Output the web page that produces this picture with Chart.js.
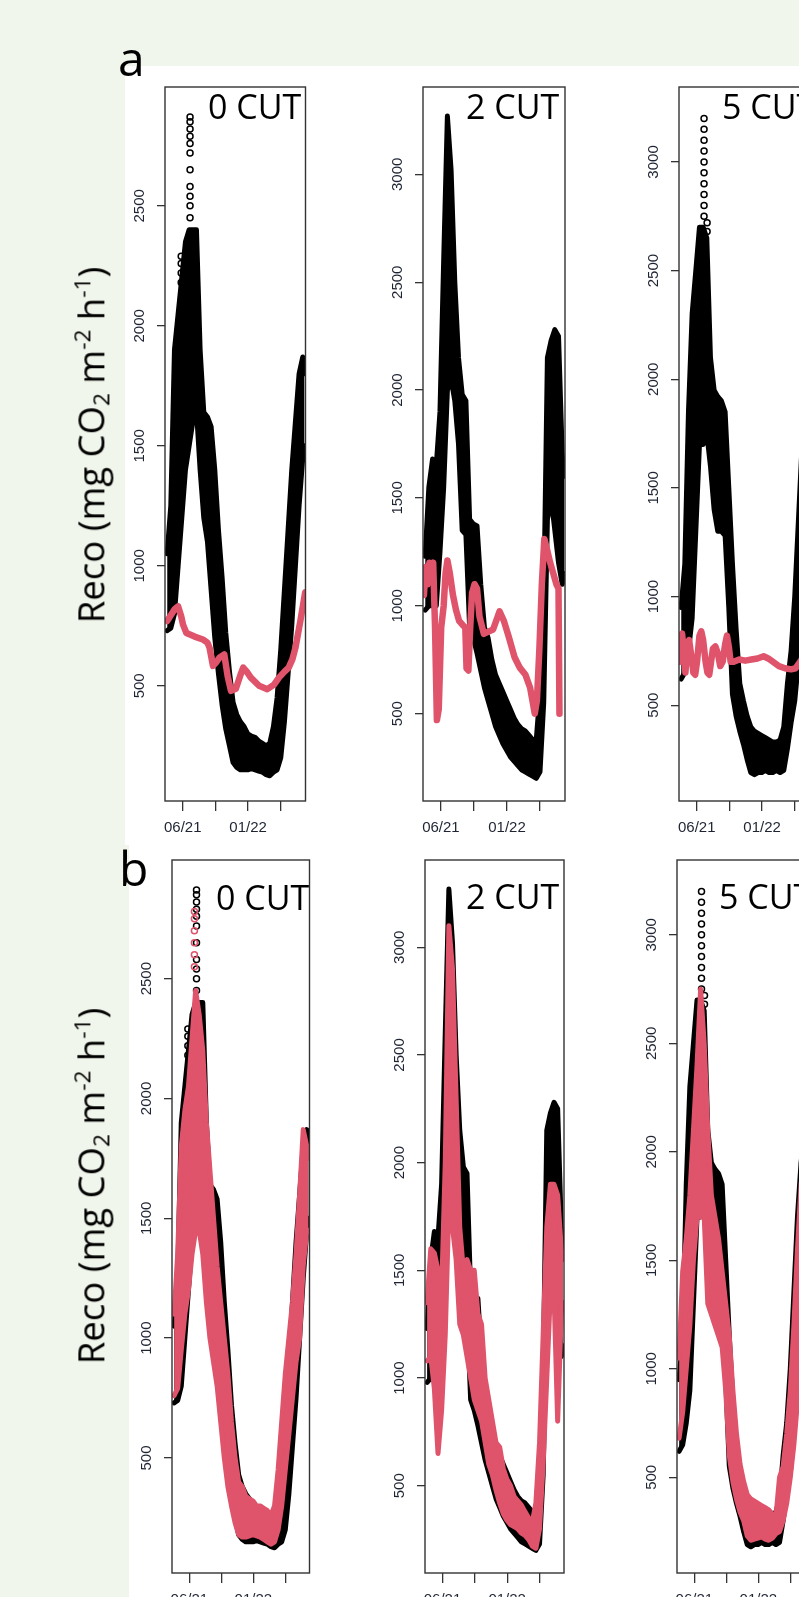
<!DOCTYPE html>
<html>
<head>
<meta charset="utf-8">
<script src="https://cdn.jsdelivr.net/npm/chart.js@4.4.1/dist/chart.umd.min.js"></script>
<style>
  html, body { margin: 0; padding: 0; overflow: hidden; }
  body { width: 799px; height: 1597px; position: relative; background: #f0f6eb; }
  .white { position: absolute; background: #fff; }
  canvas { position: absolute; }
  .cut { position: absolute; font: 34px "Open Sans"; line-height: 32px; color: #000; white-space: nowrap; }
  .panel { position: absolute; font: 48px "Open Sans"; line-height: 48px; color: #000; }
  .ytitle { position: absolute; transform: translate(-50%, -50%) rotate(-90deg); white-space: nowrap;
            font: 36.5px "Open Sans"; line-height: 42px; color: #000; }
  .ytitle sub, .ytitle sup { font-size: 0.62em; }
  .ytitle sub { vertical-align: -0.25em; }
  .ytitle sup { vertical-align: 0.6em; }
</style>
</head>
<body>
<div class="white" style="left:125px;top:66px;width:674px;height:779px"></div>
<div class="white" style="left:129px;top:845px;width:670px;height:752px"></div>

<canvas id="a0"></canvas><canvas id="a2"></canvas><canvas id="a5"></canvas>
<canvas id="b0"></canvas><canvas id="b2"></canvas><canvas id="b5"></canvas>

<div class="panel" style="left:118px;top:34px">a</div>
<div class="panel" style="left:119px;top:844px">b</div>
<div class="cut" style="left:208px;top:90px">0 CUT</div>
<div class="cut" style="left:466px;top:90px">2 CUT</div>
<div class="cut" style="left:722px;top:90px">5 CUT</div>
<div class="cut" style="left:216px;top:881px">0 CUT</div>
<div class="cut" style="left:466px;top:880px">2 CUT</div>
<div class="cut" style="left:719px;top:880px">5 CUT</div>
<div class="ytitle" style="left:92px;top:445px">Reco (mg CO<sub>2</sub> m<sup>-2</sup> h<sup>-1</sup>)</div>
<div class="ytitle" style="left:92px;top:1186px">Reco (mg CO<sub>2</sub> m<sup>-2</sup> h<sup>-1</sup>)</div>

<script>
// days since 1 Jan 2021
const days = [100,112,124,136,148,160,172,184,196,208,220,232,244,256,268,280,292,304,316,328,
              340,352,364,376,388,400,412,424,436,448,460,472,484,496,508,520,532,544,550];

// measured Reco, daily spread (low / high edge of the point cloud)
const obs0Lo = [730,740,800,1000,1200,1400,1500,1600,1650,1400,1200,1100,900,700,550,420,320,250,180,160,
                150,150,150,155,150,145,140,130,125,140,150,200,350,550,750,1000,1250,1450,1500];
const obs0Hi = [1050,1250,1900,2050,2200,2350,2400,2400,2400,1900,1640,1620,1580,1400,1150,950,720,560,430,380,
                350,330,300,290,285,270,260,250,260,330,450,650,900,1150,1400,1600,1800,1870,1800];
const obs2Lo = [980,1000,1000,1000,1250,1550,2000,2050,1950,1750,1350,1330,900,850,780,700,620,560,500,440,
                400,360,330,300,280,260,240,230,220,210,200,230,550,1400,1500,1350,1200,1100,1150];
const obs2Hi = [1230,1550,1680,1650,1900,2600,3270,3020,2500,2150,1980,1950,1400,1380,1370,1100,900,850,750,680,
                640,600,560,520,480,450,430,420,400,380,380,600,1000,2150,2230,2280,2250,1700,1600];
const obs5Lo = [620,650,750,900,1300,1700,1700,1750,1600,1400,1300,1300,1280,950,550,450,380,320,250,190,
                180,190,190,200,190,190,200,190,200,300,420,520,700,950,1150,1300,1300,1300,1350];
const obs5Hi = [950,1150,1850,2300,2500,2700,2700,2650,2100,1950,1920,1900,1850,1500,1150,850,600,520,450,400,
                380,370,360,350,340,330,330,340,400,600,750,1000,1350,1700,1950,2100,2100,1900,1800];

// sparse high points above the dense cloud
const peak0Days = [146,146,146,146,175,175,175,175,175,175,175,175,175,175,175];
const peak0Vals = [2180,2220,2260,2290,2450,2500,2540,2580,2650,2720,2760,2790,2820,2850,2870];
const peak5Days = [175,175,175,175,175,175,175,175,175,175,185,185];
const peak5Vals = [2750,2800,2850,2900,2950,3000,3050,3100,3150,3200,2720,2680];

// panel a: first model (single red trace)
const lin0Days = [100,110,125,136,146,152,163,190,217,232,239,250,262,271,287,298,309,325,340,349,
                  360,374,401,428,450,466,485,498,510,520,536,547,552];
const lin0Vals = [770,790,820,831,790,755,720,705,693,680,658,583,600,617,631,541,479,488,545,576,
                  560,534,500,486,505,534,560,576,610,658,769,852,890];
const lin2Days = [96,102,108,114,120,126,132,138,144,152,160,166,172,180,190,200,210,222,230,234,
                  240,246,252,260,268,276,290,305,320,341,355,370,390,407,425,440,450,455,462,470,
                  478,486,495,505,515,525,532,535];
const lin2Vals = [1050,1180,1100,1200,1150,1200,900,470,520,900,1000,1150,1210,1150,1050,980,930,910,900,710,
                  700,900,1060,1100,1080,950,870,880,890,974,930,860,760,712,680,620,540,500,560,800,
                  1100,1310,1260,1200,1150,1100,1080,500];
const lin5Days = [96,103,108,114,120,126,134,140,146,152,160,166,172,180,186,192,198,204,212,220,
                  228,236,244,250,256,262,272,290,310,330,350,370,385,400,420,440,460,475,490,510,530,550];
const lin5Vals = [700,830,760,650,760,800,720,650,640,700,820,840,800,700,650,640,700,760,770,740,
                  680,700,780,820,770,700,700,710,705,710,715,725,715,700,680,670,665,670,700,750,820,900];

// panel b: second model (red cloud)
const fit0Lo = [760,790,950,1100,1200,1350,1450,1450,1350,1150,1000,900,800,650,500,380,300,230,180,170,
                170,175,180,175,170,160,150,140,150,200,300,450,600,750,900,1000,1300,1450,1450];
const fit0Hi = [1100,1350,1800,1950,2050,2250,2450,2350,2200,1900,1700,1500,1300,1150,1000,850,650,500,400,380,
                340,330,320,300,300,290,280,260,300,450,650,850,1000,1150,1350,1600,1870,1800,1750];
const fit2Lo = [1080,1100,950,650,850,1200,1800,1700,1550,1250,1200,1100,1000,900,850,800,700,600,550,480,
                420,370,340,320,310,300,280,270,250,220,210,300,600,1000,1400,1400,800,1300,1350];
const fit2Hi = [1350,1600,1580,1500,1400,2000,3100,2900,2300,1700,1500,1550,1500,1500,1300,1250,1000,900,800,700,
                680,580,530,500,450,430,410,380,350,330,420,700,1200,1700,1900,1900,1850,1600,1550];
const fit5Lo = [680,800,1000,1200,1500,1700,1700,1700,1300,1250,1200,1150,1100,900,600,480,400,340,300,230,
                210,215,220,225,215,210,220,240,250,300,380,500,650,850,1050,1200,1300,1300,1300];
const fit5Hi = [1050,1450,1600,1800,2100,2400,2750,2500,2100,1800,1700,1600,1450,1300,1150,900,700,560,480,420,
                400,390,380,370,360,350,330,320,500,550,700,900,1200,1550,1850,2000,2000,1900,1800];
const fitPeak0Days = [168,168,168,168,168,168];
const fitPeak0Vals = [2550,2600,2650,2700,2750,2780];

const xTickDays = [151, 258, 365, 472];
const xTickLabels = ['06/21', '', '01/22', ''];
const yTicks0 = [500, 1000, 1500, 2000, 2500];
const yTicks25 = [500, 1000, 1500, 2000, 2500, 3000];

const BLACK = '#000000';
const RED = '#DF536B';
const INK = '#1f2433';
const AXW = 60, AXH = 50, PAD = 4;

function pts(xs, ys) { return xs.map((x, i) => ({ x: x, y: ys[i] })); }

function band(lo, hi, color, order) {
  return [
    { data: pts(days, lo), borderColor: color, backgroundColor: color, borderWidth: 5, fill: false, order: order },
    { data: pts(days, hi), borderColor: color, backgroundColor: color, borderWidth: 5, fill: '-1', order: order }
  ];
}

function trace(xs, ys, color, order) {
  return { data: pts(xs, ys), borderColor: color, borderWidth: 6.5, fill: false, order: order };
}

function circles(xs, ys, color, order) {
  return { data: pts(xs, ys), showLine: false, pointRadius: 3, pointBorderWidth: 1.5,
           pointBorderColor: color, pointBackgroundColor: 'rgba(0,0,0,0)', order: order };
}

const frame = {
  id: 'frame',
  afterDatasetsDraw(chart) {
    const a = chart.chartArea, c = chart.ctx;
    c.save();
    c.strokeStyle = '#333';
    c.lineWidth = 1.4;
    c.strokeRect(a.left, a.top, a.right - a.left, a.bottom - a.top);
    c.restore();
  }
};

function plot(id, box, yMin, yMax, yTicks, datasets) {
  const cv = document.getElementById(id);
  cv.width = AXW + box[2] + PAD;
  cv.height = PAD + box[3] + AXH;
  cv.style.left = (box[0] - AXW) + 'px';
  cv.style.top = (box[1] - PAD) + 'px';
  const font = { family: 'Liberation Sans', size: 15 };
  new Chart(cv, {
    type: 'line',
    data: { datasets: datasets },
    plugins: [frame],
    options: {
      responsive: false,
      animation: false,
      devicePixelRatio: 1,
      events: [],
      layout: { padding: { top: PAD, right: PAD, left: 0, bottom: 0 } },
      elements: { point: { radius: 0 }, line: { tension: 0, borderJoinStyle: 'round', borderCapStyle: 'round' } },
      datasets: { line: { clip: 0 } },
      plugins: { legend: { display: false }, tooltip: { enabled: false } },
      scales: {
        x: {
          type: 'linear', min: 93, max: 553,
          afterBuildTicks: ax => { ax.ticks = xTickDays.map(v => ({ value: v })); },
          afterFit: ax => { ax.height = AXH; },
          ticks: { autoSkip: false, maxRotation: 0, minRotation: 0, padding: 8, color: INK, font: font,
                   callback: v => xTickLabels[xTickDays.indexOf(v)] },
          grid: { drawOnChartArea: false, drawTicks: true, tickLength: 10, color: '#333', lineWidth: 1.3 },
          border: { display: false }
        },
        y: {
          type: 'linear', min: yMin, max: yMax,
          afterBuildTicks: ax => { ax.ticks = yTicks.map(v => ({ value: v })); },
          afterFit: ax => { ax.width = AXW; },
          ticks: { minRotation: 90, maxRotation: 90, crossAlign: 'center', padding: 0, color: INK, font: font,
                   callback: v => String(v) },
          grid: { drawOnChartArea: false, drawTicks: true, tickLength: 8, color: '#333', lineWidth: 1.3 },
          border: { display: false }
        }
      }
    }
  });
}

plot('a0', [165, 82, 142, 719], 20, 2995, yTicks0,
  [...band(obs0Lo, obs0Hi, BLACK, 2), circles(peak0Days, peak0Vals, BLACK, 2), trace(lin0Days, lin0Vals, RED, 0)]);
plot('a2', [423, 82, 142, 719], 95, 3405, yTicks25,
  [...band(obs2Lo, obs2Hi, BLACK, 2), trace(lin2Days, lin2Vals, RED, 0)]);
plot('a5', [679, 82, 142, 719], 59, 3345, yTicks25,
  [...band(obs5Lo, obs5Hi, BLACK, 2), circles(peak5Days, peak5Vals, BLACK, 2), trace(lin5Days, lin5Vals, RED, 0)]);

plot('b0', [172, 855, 139, 718], 20, 2995, yTicks0,
  [...band(obs0Lo, obs0Hi, BLACK, 2), circles(peak0Days, peak0Vals, BLACK, 2),
   ...band(fit0Lo, fit0Hi, RED, 0), circles(fitPeak0Days, fitPeak0Vals, RED, 0)]);
plot('b2', [425, 855, 139, 718], 95, 3405, yTicks25,
  [...band(obs2Lo, obs2Hi, BLACK, 2), ...band(fit2Lo, fit2Hi, RED, 0)]);
plot('b5', [677, 855, 139, 718], 59, 3345, yTicks25,
  [...band(obs5Lo, obs5Hi, BLACK, 2), circles(peak5Days, peak5Vals, BLACK, 2), ...band(fit5Lo, fit5Hi, RED, 0)]);
</script>
</body>
</html>
